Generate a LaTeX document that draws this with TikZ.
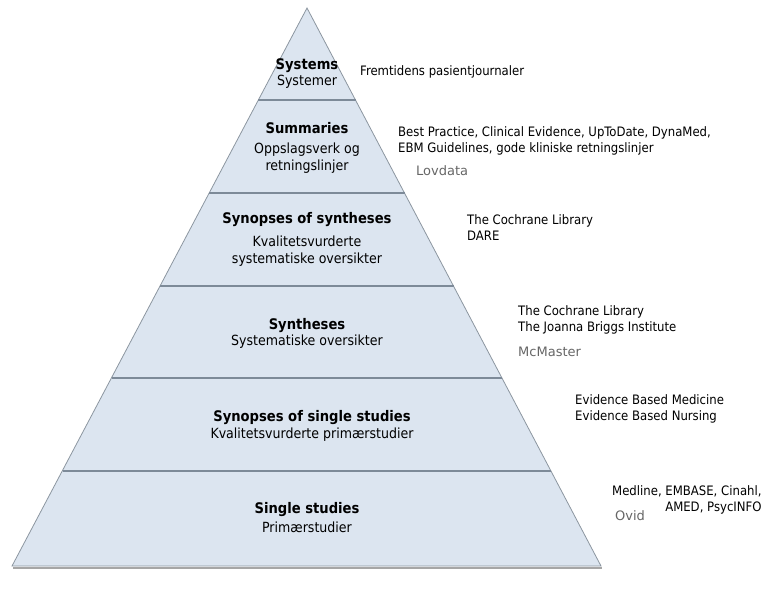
\documentclass[tikz,border=0pt]{standalone}
\usepackage{fontspec}
\setmainfont{DejaVu Sans Condensed}
\newfontfamily\dbfont{DejaVu Sans}
\definecolor{pyrfill}{HTML}{DCE5F0}
\definecolor{pyredge}{HTML}{8C96A0}
\definecolor{pyrline}{HTML}{7D8A98}
\begin{document}
\begin{tikzpicture}[x=1pt,y=-1pt,
    level/.style={font=\fontsize{14.6}{16}\selectfont\bfseries, inner sep=0pt, align=center},
    sub/.style={font=\fontsize{14}{17}\selectfont, inner sep=0pt, align=center},
    src/.style={font=\fontsize{13}{16}\selectfont, inner sep=0pt, anchor=west, align=left},
    db/.style={font=\dbfont\fontsize{13}{13}\selectfont, text=black!60, inner sep=0pt, anchor=west}]
  \useasboundingbox (0,0) rectangle (780,594);
  % pyramid
  \fill[black!35] (13,567) -- (602,567) -- (602,569) -- (13,569) -- cycle;
  \draw[fill=pyrfill, draw=pyredge, line width=0.8pt] (307,8) -- (601,566) -- (12,566) -- cycle;
  \foreach \y in {100,193,286,378,471} {
    \pgfmathsetmacro\hw{0.52778*(\y-8)}
    \draw[pyrline, line width=1.6pt] (307-\hw,\y) -- (307+\hw,\y);
  }
  % levels
  \node[level] (systems) at (307,66) {Systems};
  \node[sub] (systemer) at (307,82) {Systemer};
  \node[level] (summaries) at (307,128) {Summaries};
  \node[sub] (oppslag) at (307,158) {Oppslagsverk og\\retningslinjer};
  \node[level] (synsyn) at (307,220) {Synopses of syntheses};
  \node[sub] (kvalsys) at (307,251) {Kvalitetsvurderte\\systematiske oversikter};
  \node[level] (syntheses) at (307,326) {Syntheses};
  \node[sub] (sysovers) at (307,342) {Systematiske oversikter};
  \node[level] (synsingle) at (312,418) {Synopses of single studies};
  \node[sub] (kvalprim) at (312,435) {Kvalitetsvurderte primærstudier};
  \node[level] (single) at (307,510) {Single studies};
  \node[sub] (primaer) at (307,527) {Primærstudier};
  % sources
  \node[src] (journal) at (360,72) {Fremtidens pasientjournaler};
  \node[src] (bestpr) at (398,141) {Best Practice, Clinical Evidence, UpToDate, DynaMed,\\EBM Guidelines, gode kliniske retningslinjer};
  \node[db] (lovdata) at (416,171) {Lovdata};
  \node[src] (cochrane1) at (467,228) {The Cochrane Library\\DARE};
  \node[src] (cochrane2) at (518,320) {The Cochrane Library\\The Joanna Briggs Institute};
  \node[db] (mcmaster) at (518,352) {McMaster};
  \node[src] (ebm) at (575,409) {Evidence Based Medicine\\Evidence Based Nursing};
  \node[src, align=right] (medline) at (612,500) {Medline, EMBASE, Cinahl,\\AMED, PsycINFO};
  \node[db] (ovid) at (615,516) {Ovid};
\end{tikzpicture}
\end{document}
